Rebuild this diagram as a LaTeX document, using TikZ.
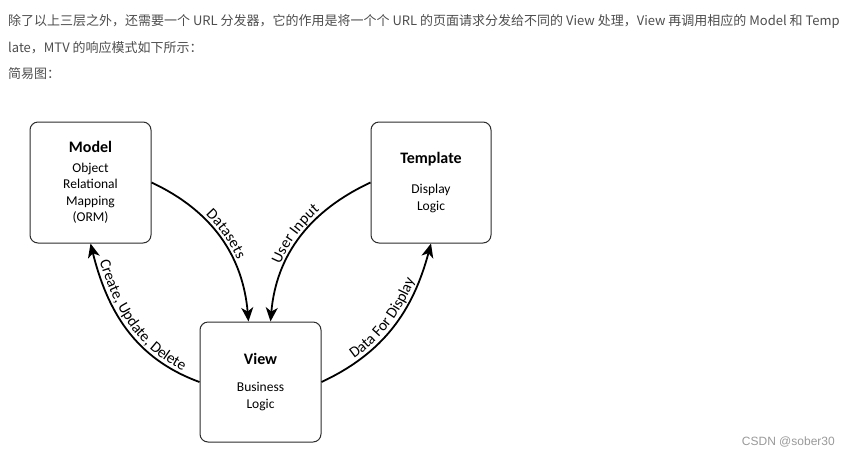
\documentclass[tikz,border=0pt]{standalone}
\usepackage{fontspec}
\setmainfont{Carlito}
\newfontfamily\cjk{Noto Sans CJK SC}
\newfontfamily\wmfont{Liberation Sans}
\usetikzlibrary{arrows.meta,decorations.text}

\definecolor{headgray}{HTML}{4D4D4D}
\definecolor{markgray}{HTML}{999999}
\definecolor{boxline}{HTML}{2B2B2B}

\begin{document}
\begin{tikzpicture}[x=1pt, y=1pt,
  box/.style={draw=boxline, line width=1pt, rounded corners=8pt, minimum width=121pt, minimum height=121pt, align=center, inner sep=0pt, font=\fontsize{13.5}{16.5}\selectfont},
  flow/.style={line width=1.8pt, -{Stealth[length=14pt, width=12pt, inset=4pt]}},
  curvetext/.style={decorate, decoration={text along path, text align=center, raise=4pt, text={|\fontsize{15.5}{17}\selectfont|#1}}},
  headline/.style={anchor=base west, inner sep=0pt, text=headgray, font=\cjk\fontsize{13}{15}\selectfont}]

\useasboundingbox (0,0) rectangle (851,-456);

% Header text
\node[headline] (line1) at (8,-25) {除了以上三层之外，还需要一个 URL 分发器，它的作用是将一个个 URL 的页面请求分发给不同的 View 处理，View 再调用相应的 Model 和 Temp};
\node[headline] (line2) at (8,-52) {late，MTV 的响应模式如下所示：};
\node[headline] (line3) at (8,-78) {简易图：};

% The three boxes
\node[box] (model) at (90.5,-182.5) {\textbf{\fontsize{16}{18}\selectfont Model}\\[3pt] Object\\Relational\\Mapping\\(ORM)};
\node[box, minimum width=120pt] (template) at (431,-182.5) {\textbf{\fontsize{16}{18}\selectfont Template}\\[14pt] Display\\Logic};
\node[box, minimum height=120pt] (view) at (260.5,-382) {\textbf{\fontsize{16}{18}\selectfont View}\\[11pt] Business\\Logic};

% Connectors
\draw[flow] (model.east) to[out=-25, in=95] ([xshift=-12pt]view.north);
\draw[flow] (template.west) to[out=205, in=85] ([xshift=10pt]view.north);
\draw[flow] (view.west) to[out=160, in=-76] (model.south);
\draw[flow] (view.east) to[out=25, in=-105] (template.south);

% Labels along the curves
\path[curvetext={Datasets}] (model.east) to[out=-25, in=95] ([xshift=-12pt]view.north);
\path[curvetext={User Input}] ([xshift=10pt]view.north) to[out=85, in=205] (template.west);
\path[curvetext={Create, Update, Delete}] (model.south) to[out=-76, in=160] (view.west);
\path[curvetext={Data For Display}] (view.east) to[out=25, in=-105] (template.south);

% Watermark
\node[anchor=base east, inner sep=0pt, text=markgray, font=\wmfont\fontsize{12}{14}\selectfont] (mark) at (835,-445) {CSDN @sober30};

\end{tikzpicture}
\end{document}
